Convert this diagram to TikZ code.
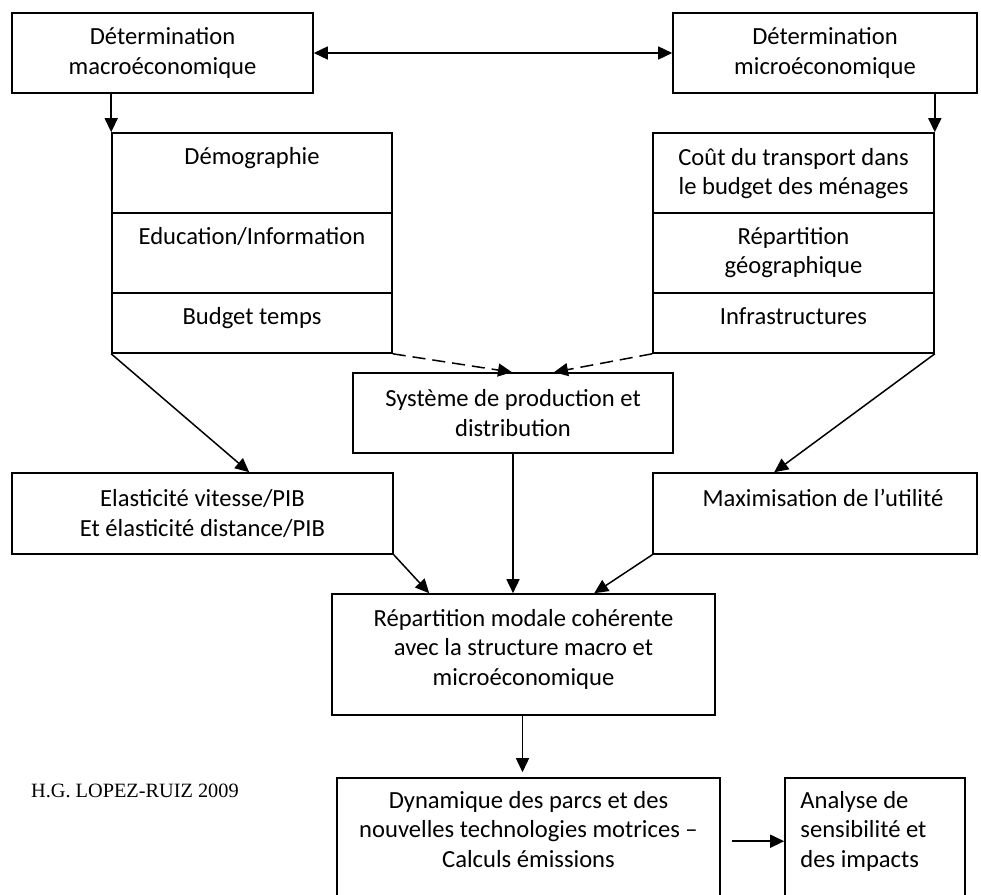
\documentclass[tikz,border=0pt]{standalone}
\usepackage{fontspec}
\setmainfont{Carlito}
\newfontfamily\creditfont{Liberation Serif}
\usetikzlibrary{arrows.meta,calc}
\begin{document}
\begin{tikzpicture}[x=1pt,y=-1pt,
  box/.style={draw,line width=1.6pt,inner sep=0pt,rectangle},
  txt/.style={font=\fontsize{24.6}{29.5}\selectfont,align=center,inner sep=0pt},
  arr/.style={line width=1.5pt,-{Triangle[length=14pt,width=13pt]}},
  darr/.style={line width=1.5pt,{Triangle[length=14pt,width=13pt]}-{Triangle[length=14pt,width=13pt]}},
  dasharr/.style={arr,dash pattern=on 13pt off 7pt}
]
\clip (0,0) rectangle (981,894);
\fill[white] (0,0) rectangle (981,894);
% top boxes
\node[box,minimum width=301pt,minimum height=80pt,txt] (macro) at (162.5,53) {Détermination\\macroéconomique};
\node[box,minimum width=304pt,minimum height=80pt,txt] (micro) at (825,53) {Détermination\\microéconomique};
% left stack
\node[box,minimum width=280pt,minimum height=80pt] (demo) at (252,173) {};
\node[box,minimum width=280pt,minimum height=80pt] (edu) at (252,253) {};
\node[box,minimum width=280pt,minimum height=60pt] (budget) at (252,323) {};
\node[txt,anchor=base] (tdemo) at ($(demo.north)+(0,32)$) {Démographie};
\node[txt,anchor=base] (tedu) at ($(edu.north)+(0,32)$) {Education/Information};
\node[txt,anchor=base] (tbudget) at ($(budget.north)+(0,32)$) {Budget temps};
% right stack
\node[box,minimum width=281pt,minimum height=80pt] (cout) at (793.5,173) {};
\node[box,minimum width=281pt,minimum height=80pt] (geo) at (793.5,253) {};
\node[box,minimum width=281pt,minimum height=60pt] (infra) at (793.5,323) {};
\node[txt,anchor=base] (tcout) at ($(cout.north)+(0,62.5)$) {Coût du transport dans\\le budget des ménages};
\node[txt,anchor=base] (tgeo) at ($(geo.north)+(0,61.5)$) {Répartition\\géographique};
\node[txt,anchor=base] (tinfra) at ($(infra.north)+(0,32)$) {Infrastructures};
% middle
\node[box,minimum width=320pt,minimum height=80pt,txt] (sys) at (513,413) {Système de production et\\distribution};
\node[box,minimum width=381pt,minimum height=81pt,txt] (elas) at (202.5,513.5) {Elasticité vitesse/PIB\\Et élasticité distance/PIB};
\node[box,minimum width=324pt,minimum height=81pt] (maxu) at (815,513.5) {};
\node[txt,anchor=base] (tmaxu) at ($(maxu.north)+(8,34)$) {Maximisation de l’utilité};
\node[box,minimum width=383pt,minimum height=121pt] (rep) at (523.5,654.5) {};
\node[txt,anchor=base] (trep) at ($(rep.north)+(0,92)$) {Répartition modale cohérente\\avec la structure macro et\\microéconomique};
% bottom
\node[box,minimum width=383pt,minimum height=140pt] (dyn) at (528.5,848) {};
\node[txt,anchor=base] (tdyn) at ($(dyn.north)+(0,90)$) {Dynamique des parcs et des\\nouvelles technologies motrices –\\Calculs émissions};
\node[box,minimum width=180pt,minimum height=140pt] (ana) at (875,848) {};
\node[txt,align=left,anchor=base west] (tana) at ($(ana.north west)+(16,90)$) {Analyse de\\sensibilité et\\des impacts};
\node[font=\creditfont\fontsize{20.3}{24}\selectfont,anchor=base west,inner sep=0pt] (credit) at (31,797) {H.G. LOPEZ-RUIZ 2009};
% connectors
\draw[darr] (macro.east) -- (micro.west |- macro.east);
\draw[arr] (demo.north west |- macro.south) -- (demo.north west);
\draw[arr] (cout.north east |- micro.south) -- (cout.north east);
\draw[dasharr] (budget.south east) -- ($(sys.north)+(-1,0)$);
\draw[dasharr] (infra.south west) -- ($(sys.north)+(41,0)$);
\draw[arr] (budget.south west) -- ($(elas.north west)+(238,0)$);
\draw[arr] (infra.south east) -- ($(maxu.north west)+(122,0)$);
\draw[arr] (sys.south) -- (sys.south |- rep.north);
\draw[arr] (elas.south east) -- ($(rep.north west)+(98,0)$);
\draw[arr] (maxu.south west) -- ($(rep.north west)+(263,0)$);
\draw[arr] ($(rep.south)+(-1,0)$) -- ($(rep.south |- dyn.north)+(-1,-5)$);
\draw[arr] ($(dyn.north east)+(11,64)$) -- ($(ana.north west)+(0,64)$);
\end{tikzpicture}
\end{document}
